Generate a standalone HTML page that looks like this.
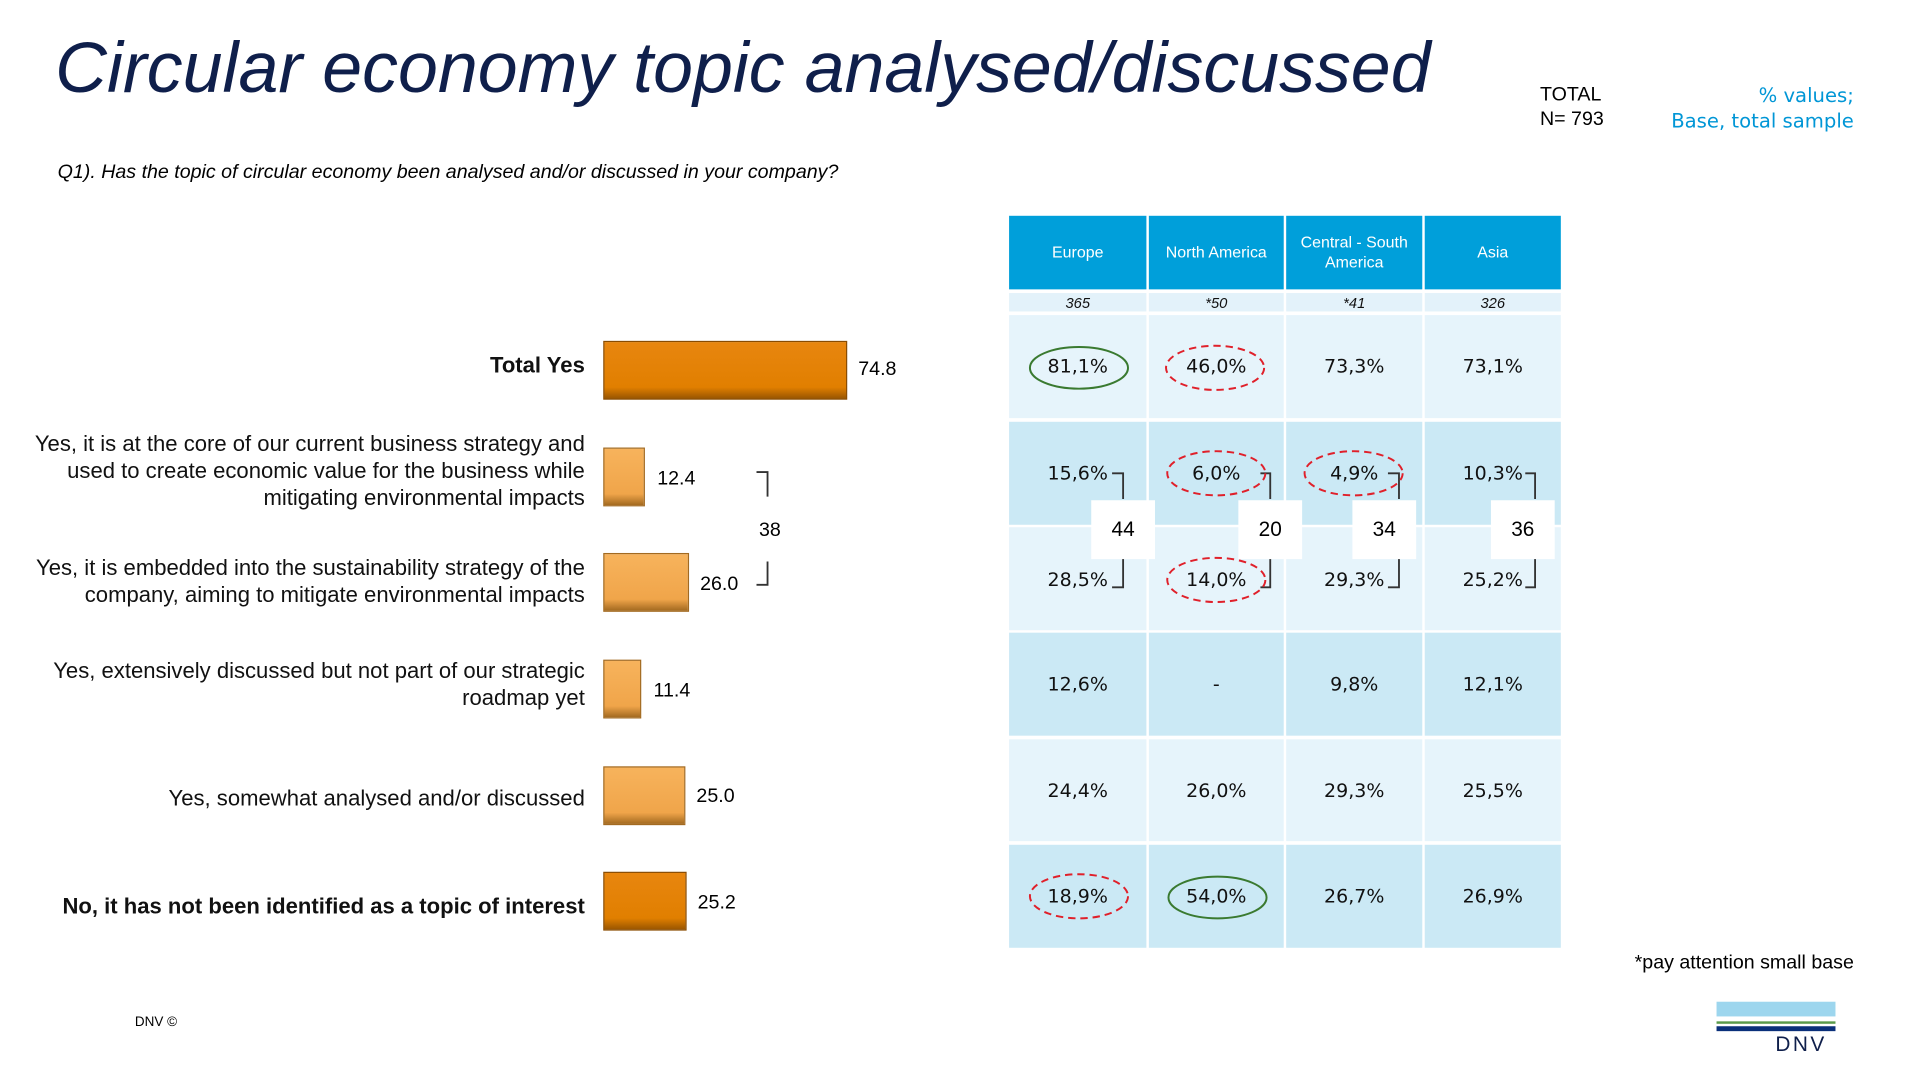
<!DOCTYPE html>
<html><head><meta charset="utf-8"><style>
html,body{margin:0;padding:0;background:#fff;width:1920px;height:1080px;overflow:hidden}
#s{position:absolute;left:0;top:0;width:1566px;height:881px;transform:scale(1.2261);transform-origin:0 0;font-family:"Liberation Sans",Arial,sans-serif}
.a{position:absolute;white-space:nowrap}
.lbl{position:absolute;right:1089px;text-align:right;font-size:18px;line-height:22px;color:#111}
.bar{position:absolute;left:492px;height:48px;box-sizing:border-box;border:1px solid #8a4c00}
.b1{background:linear-gradient(#e8860f,#e17f00 80%,#9a5600);}
.b2{background:linear-gradient(#f7b35c,#f0a54a 80%,#a36a20);border-color:#a36a20}
.val{position:absolute;font-size:16px}
.c{position:absolute;text-align:center;font-family:"DejaVu Sans",Verdana,sans-serif;font-size:15.5px;color:#111}
.h{position:absolute;background:#009fda;color:#fff;font-size:13px;text-align:center;display:flex;align-items:center;justify-content:center;line-height:16px}
.bx{position:absolute;background:#fff;width:52px;height:48px;text-align:center;line-height:48px;font-size:17px}
</style></head><body><div id="s">
<div class="a" style="left:45px;top:22px;font-size:58.5px;font-style:italic;color:#0f1f4b">Circular economy topic analysed/discussed</div>
<div class="a" style="left:1256px;top:68px;font-size:16px;line-height:20px">TOTAL<br>N= 793</div>
<div class="a" style="right:54px;top:67px;font-size:16px;line-height:21px;color:#0096d6;text-align:right;font-family:'DejaVu Sans',Verdana,sans-serif">% values;<br>Base, total sample</div>
<div class="a" style="left:47px;top:132px;font-size:16px;font-style:italic">Q1). Has the topic of circular economy been analysed and/or discussed in your company?</div>

<div class="lbl" style="top:287px;font-weight:bold">Total Yes</div>
<div class="lbl" style="top:351px">Yes, it is at the core of our current business strategy and<br>used to create economic value for the business while<br>mitigating environmental impacts</div>
<div class="lbl" style="top:452px">Yes, it is embedded into the sustainability strategy of the<br>company, aiming to mitigate environmental impacts</div>
<div class="lbl" style="top:536px">Yes, extensively discussed but not part of our strategic<br>roadmap yet</div>
<div class="lbl" style="top:640px">Yes, somewhat analysed and/or discussed</div>
<div class="lbl" style="top:728px;font-weight:bold">No, it has not been identified as a topic of interest</div>

<div class="bar b1" style="top:278px;width:199px"></div>
<div class="bar b2" style="top:365px;width:34px"></div>
<div class="bar b2" style="top:451px;width:70px"></div>
<div class="bar b2" style="top:538px;width:31px"></div>
<div class="bar b2" style="top:625px;width:67px"></div>
<div class="bar b1" style="top:711px;width:68px"></div>
<div class="val" style="left:700px;top:293px">74.8</div>
<div class="val" style="left:536px;top:382px">12.4</div>
<div class="val" style="left:571px;top:468px">26.0</div>
<div class="val" style="left:533px;top:555px">11.4</div>
<div class="val" style="left:568px;top:641px">25.0</div>
<div class="val" style="left:569px;top:728px">25.2</div>
<div class="val" style="left:619px;top:424px">38</div>

<div class="h" style="left:823px;top:176px;width:112px;height:60px">Europe</div>
<div class="h" style="left:937px;top:176px;width:110px;height:60px">North America</div>
<div class="h" style="left:1049px;top:176px;width:111px;height:60px">Central - South<br>America</div>
<div class="h" style="left:1162px;top:176px;width:111px;height:60px">Asia</div>

<svg class="a" style="left:0;top:0" width="1566" height="881">
<g fill="#e3f2fa"><rect x="823" y="239" width="112" height="15"/><rect x="937" y="239" width="110" height="15"/><rect x="1049" y="239" width="111" height="15"/><rect x="1162" y="239" width="111" height="15"/></g>
<g>
<rect x="823" y="257" width="112" height="84" fill="#e6f4fb"/><rect x="937" y="257" width="110" height="84" fill="#e6f4fb"/><rect x="1049" y="257" width="111" height="84" fill="#e6f4fb"/><rect x="1162" y="257" width="111" height="84" fill="#e6f4fb"/>
<rect x="823" y="344" width="112" height="84" fill="#cbe9f5"/><rect x="937" y="344" width="110" height="84" fill="#cbe9f5"/><rect x="1049" y="344" width="111" height="84" fill="#cbe9f5"/><rect x="1162" y="344" width="111" height="84" fill="#cbe9f5"/>
<rect x="823" y="430" width="112" height="84" fill="#e6f4fb"/><rect x="937" y="430" width="110" height="84" fill="#e6f4fb"/><rect x="1049" y="430" width="111" height="84" fill="#e6f4fb"/><rect x="1162" y="430" width="111" height="84" fill="#e6f4fb"/>
<rect x="823" y="516" width="112" height="84" fill="#cbe9f5"/><rect x="937" y="516" width="110" height="84" fill="#cbe9f5"/><rect x="1049" y="516" width="111" height="84" fill="#cbe9f5"/><rect x="1162" y="516" width="111" height="84" fill="#cbe9f5"/>
<rect x="823" y="603" width="112" height="83" fill="#e6f4fb"/><rect x="937" y="603" width="110" height="83" fill="#e6f4fb"/><rect x="1049" y="603" width="111" height="83" fill="#e6f4fb"/><rect x="1162" y="603" width="111" height="83" fill="#e6f4fb"/>
<rect x="823" y="689" width="112" height="84" fill="#cbe9f5"/><rect x="937" y="689" width="110" height="84" fill="#cbe9f5"/><rect x="1049" y="689" width="111" height="84" fill="#cbe9f5"/><rect x="1162" y="689" width="111" height="84" fill="#cbe9f5"/>
</g>
<g fill="none" stroke="#333" stroke-width="1.5">
<path d="M617 385H626V405M617 477H626V458"/>
<path d="M907 386H916V407M907 479H916V455"/>
<path d="M1028 386H1036V407M1028 479H1036V455"/>
<path d="M1132 386H1141V407M1132 479H1141V455"/>
<path d="M1244 386H1252V407M1244 479H1252V455"/>
</g>
<g fill="none" stroke-width="1.6">
<ellipse cx="880" cy="300" rx="40" ry="17" stroke="#3a7a30"/>
<ellipse cx="993" cy="732" rx="40" ry="17" stroke="#3a7a30"/>
<g stroke="#e0202a" stroke-dasharray="6,4">
<ellipse cx="991" cy="300" rx="40" ry="18"/>
<ellipse cx="992" cy="386" rx="40" ry="18"/>
<ellipse cx="1104" cy="386" rx="40" ry="18"/>
<ellipse cx="992" cy="473" rx="40" ry="18"/>
<ellipse cx="880" cy="731" rx="40" ry="18"/>
</g></g>
<rect x="1400" y="817" width="97" height="12" fill="#9dd6ee"/>
<rect x="1400" y="833" width="97" height="2" fill="#5a9a4a"/>
<rect x="1400" y="837" width="97" height="4" fill="#0a2f7a"/>
</svg>
<div class="c" style="left:823px;top:240px;width:112px;font-size:12px;font-style:italic;font-family:'Liberation Sans',sans-serif">365</div>
<div class="c" style="left:937px;top:240px;width:110px;font-size:12px;font-style:italic;font-family:'Liberation Sans',sans-serif">*50</div>
<div class="c" style="left:1049px;top:240px;width:111px;font-size:12px;font-style:italic;font-family:'Liberation Sans',sans-serif">*41</div>
<div class="c" style="left:1162px;top:240px;width:111px;font-size:12px;font-style:italic;font-family:'Liberation Sans',sans-serif">326</div>

<div class="c" style="left:823px;top:290px;width:112px">81,1%</div>
<div class="c" style="left:937px;top:290px;width:110px">46,0%</div>
<div class="c" style="left:1049px;top:290px;width:111px">73,3%</div>
<div class="c" style="left:1162px;top:290px;width:111px">73,1%</div>
<div class="c" style="left:823px;top:377px;width:112px">15,6%</div>
<div class="c" style="left:937px;top:377px;width:110px">6,0%</div>
<div class="c" style="left:1049px;top:377px;width:111px">4,9%</div>
<div class="c" style="left:1162px;top:377px;width:111px">10,3%</div>
<div class="c" style="left:823px;top:464px;width:112px">28,5%</div>
<div class="c" style="left:937px;top:464px;width:110px">14,0%</div>
<div class="c" style="left:1049px;top:464px;width:111px">29,3%</div>
<div class="c" style="left:1162px;top:464px;width:111px">25,2%</div>
<div class="c" style="left:823px;top:549px;width:112px">12,6%</div>
<div class="c" style="left:937px;top:549px;width:110px">-</div>
<div class="c" style="left:1049px;top:549px;width:111px">9,8%</div>
<div class="c" style="left:1162px;top:549px;width:111px">12,1%</div>
<div class="c" style="left:823px;top:636px;width:112px">24,4%</div>
<div class="c" style="left:937px;top:636px;width:110px">26,0%</div>
<div class="c" style="left:1049px;top:636px;width:111px">29,3%</div>
<div class="c" style="left:1162px;top:636px;width:111px">25,5%</div>
<div class="c" style="left:823px;top:722px;width:112px">18,9%</div>
<div class="c" style="left:937px;top:722px;width:110px">54,0%</div>
<div class="c" style="left:1049px;top:722px;width:111px">26,7%</div>
<div class="c" style="left:1162px;top:722px;width:111px">26,9%</div>

<div class="bx" style="left:890px;top:408px">44</div>
<div class="bx" style="left:1010px;top:408px">20</div>
<div class="bx" style="left:1103px;top:408px">34</div>
<div class="bx" style="left:1216px;top:408px">36</div>

<div class="a" style="right:54px;top:777px;font-size:16px">*pay attention small base</div>
<div class="a" style="left:110px;top:828px;font-size:11px">DNV ©</div>
<div class="a" style="left:1448px;top:842px;font-size:17px;letter-spacing:2px;color:#0f1f4b">DNV</div>
</div></body></html>
